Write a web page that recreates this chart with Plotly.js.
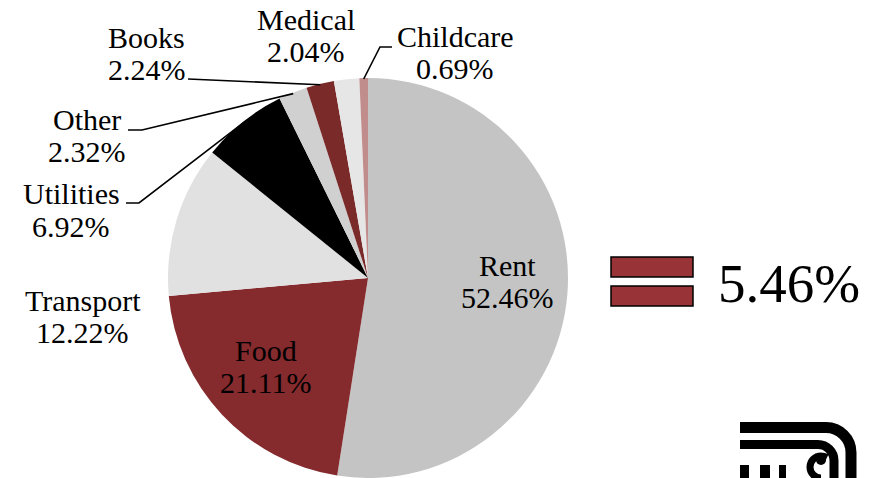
<!DOCTYPE html>
<html>
<head>
<meta charset="utf-8">
<script src="https://cdn.plot.ly/plotly-3.0.1.min.js"></script>
<style>html,body{margin:0;padding:0;background:#fff;}#chart{width:877px;height:478px;}</style>
</head>
<body>
<div id="chart"></div>
<script>
// ---- data ----
const labels = ['Rent', 'Food', 'Transport', 'Utilities', 'Other', 'Books', 'Medical', 'Childcare'];
const values = [52.46, 21.11, 12.22, 6.92, 2.32, 2.24, 2.04, 0.69];
const pctLabels = ['52.46%', '21.11%', '12.22%', '6.92%', '2.32%', '2.24%', '2.04%', '0.69%'];
const highlightLabel = '5.46%';

// ---- styling / layout config ----
const sliceColors = ['#c4c4c4', '#852a2d', '#e1e1e1', '#000000', '#d0d0d0', '#7b2a2a', '#e6e6e6', '#c08c8c'];
const W = 877, H = 478;
const CX = 368, CY = 278, R = 200;
const FONT = '"Liberation Serif", "DejaVu Serif", serif';
const FS = 30;
const insideLabels = ['Rent', 'Food'];
const insideRadius = 0.70;
// outside label positions (pixel: centre x, baseline of line 1, baseline of line 2)
const outsidePos = {
  Transport: [82.5, 311, 343],
  Utilities: [71, 204, 237],
  Other: [86.6, 130, 162],
  Books: [146.5, 48, 80],
  Medical: [305.5, 30, 62],
  Childcare: [455, 47, 79]
};
// leader-line waypoints (pixel) from label to the slice edge
const leaders = {
  Utilities: [[126, 203], [139, 203]],
  Other: [[128, 130], [142, 130]],
  Books: [[188, 79]],
  Childcare: [[392, 47], [380, 47]]
};

const total = values.reduce((a, b) => a + b, 0);
let cum = 0;
const midAngles = values.map(v => { const a = 2 * Math.PI * (cum + v / 2) / total; cum += v; return a; });
function polar(a, r) { return [CX + r * Math.sin(a), CY - r * Math.cos(a)]; }

const annotations = [];
const shapes = [];
function addText(txt, x, baseline, size, anchor) {
  annotations.push({
    x: x, y: baseline - 0.3375 * size, xref: 'x', yref: 'y', text: txt, showarrow: false,
    xanchor: anchor || 'center', yanchor: 'middle', font: {family: FONT, size: size, color: '#000'}
  });
}

labels.forEach((lab, i) => {
  if (insideLabels.includes(lab)) {
    const p = polar(midAngles[i], R * insideRadius);
    addText(lab, p[0], p[1] - 13, FS);
    addText(pctLabels[i], p[0], p[1] + 19, FS);
  } else {
    const pos = outsidePos[lab];
    addText(lab, pos[0], pos[1], FS);
    addText(pctLabels[i], pos[0], pos[2], FS);
  }
  if (leaders[lab]) {
    const pts = leaders[lab].concat([polar(midAngles[i], R - 1)]);
    const d = pts.map((p, k) => (k ? 'L' : 'M') + p[0].toFixed(1) + ',' + p[1].toFixed(1)).join(' ');
    shapes.push({type: 'path', xref: 'x', yref: 'y', path: d, line: {color: '#000', width: 1.6}});
  }
});

// highlight "equals" marker and big value
shapes.push({type: 'rect', xref: 'x', yref: 'y', x0: 611, x1: 693, y0: 257, y1: 277, fillcolor: '#983437', line: {color: '#000', width: 1.5}});
shapes.push({type: 'rect', xref: 'x', yref: 'y', x0: 611, x1: 693, y0: 286, y1: 306, fillcolor: '#983437', line: {color: '#000', width: 1.5}});
addText(highlightLabel, 716, 302, 55, 'left');

// partial logo (bottom right)
const logoPaths = [
  {d: 'M740,427.5 L826,427.5 C839.8,427.5 851,438.7 851,452.5 L851,485', w: 11},
  {d: 'M740,444.5 L818,444.5 C826.8,444.5 834,451.7 834,460.5 L834,485', w: 9},
  {d: 'M827,457.5 C825,456.5 823,456 821,456 C814.9,456 810,460.9 810,467 C810,473.1 814.9,478 821,478', w: 7}
];
logoPaths.forEach(p => shapes.push({type: 'path', xref: 'x', yref: 'y', path: p.d, line: {color: '#000', width: p.w}}));
shapes.push({type: 'circle', xref: 'x', yref: 'y', x0: 816, x1: 826, y0: 455, y1: 465, fillcolor: '#000', line: {width: 0}});
[[740, 749], [760, 770], [779, 786]].forEach(r => shapes.push({type: 'rect', xref: 'x', yref: 'y', x0: r[0], x1: r[1], y0: 465, y1: 480, fillcolor: '#000', line: {width: 0}}));

const traces = [
  {type: 'scatter', x: [], y: [], hoverinfo: 'skip', showlegend: false},
  {
    type: 'pie', labels: labels, values: values, sort: false, direction: 'clockwise', rotation: 0,
    marker: {colors: sliceColors, line: {width: 0}}, textinfo: 'none', hoverinfo: 'label+percent',
    showlegend: false,
    domain: {x: [(CX - R) / W, (CX + R) / W], y: [(H - CY - R) / H, (H - CY + R) / H]}
  }
];

const layout = {
  width: W, height: H, margin: {l: 0, r: 0, t: 0, b: 0},
  paper_bgcolor: '#fff', plot_bgcolor: 'rgba(0,0,0,0)', showlegend: false,
  font: {family: FONT},
  xaxis: {range: [0, W], visible: false, fixedrange: true},
  yaxis: {range: [H, 0], visible: false, fixedrange: true},
  annotations: annotations, shapes: shapes
};
Plotly.newPlot('chart', traces, layout, {displayModeBar: false, staticPlot: true});
</script>
</body>
</html>
